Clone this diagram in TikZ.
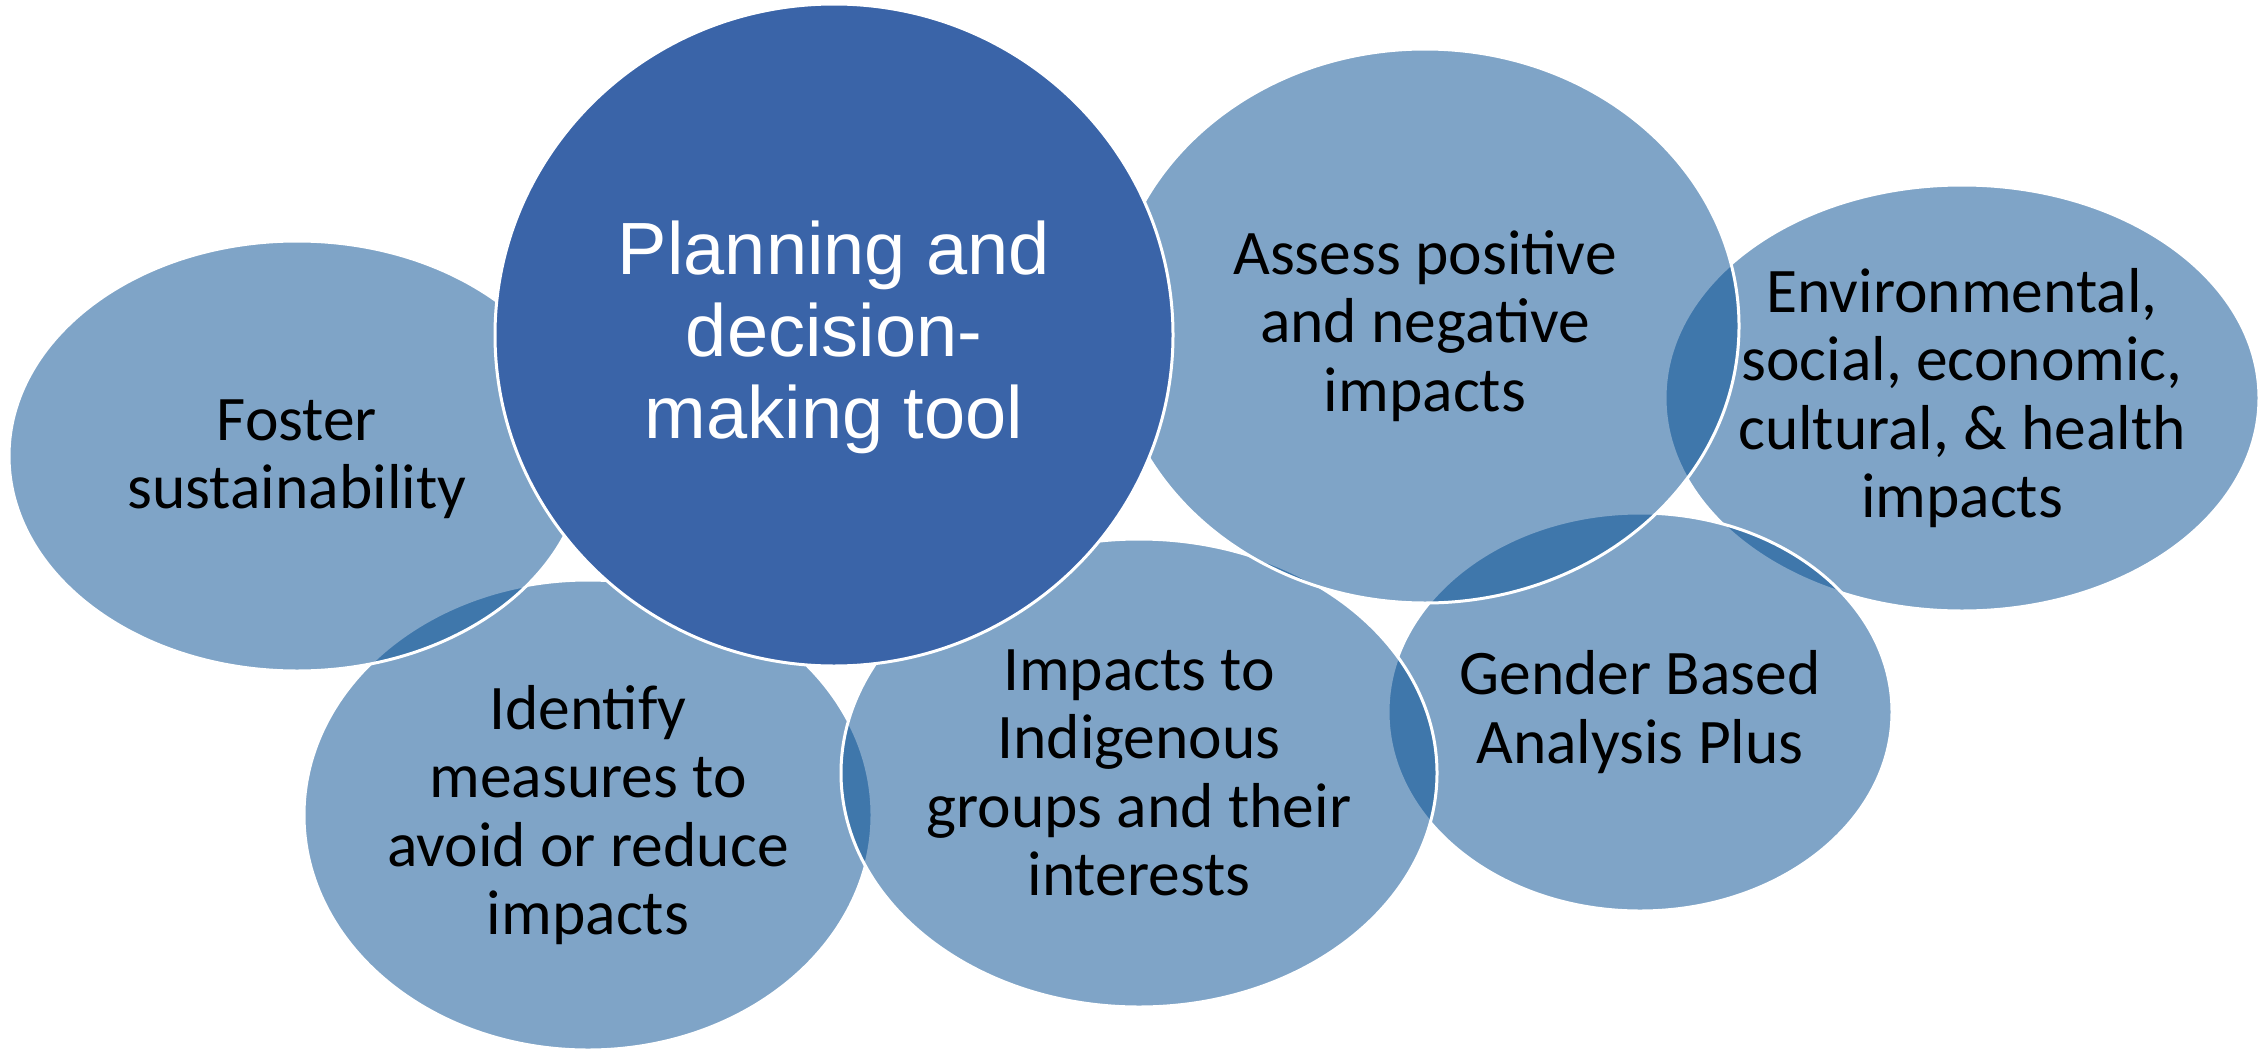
\documentclass[tikz,border=0pt]{standalone}
\usepackage{fontspec}
\setmainfont{Carlito}
\newfontfamily\arialfont{Liberation Sans}
\usetikzlibrary{shapes.geometric}
\definecolor{vfill}{RGB}{0,75,145}
\definecolor{vdark}{RGB}{58,100,168}
\tikzset{
  venn/.style={ellipse, draw=white, line width=3pt, fill=vfill, fill opacity=0.5, draw opacity=1, inner sep=0pt, outer sep=0pt},
  vennmain/.style={venn, fill=vdark, fill opacity=1},
  lbl/.style={align=center, text=black, inner sep=0pt, font=\fontsize{63.5}{68.5}\selectfont},
  mainlbl/.style={align=center, text=white, inner sep=0pt, font=\arialfont\fontsize{74}{82}\selectfont}
}
\begin{document}
\begin{tikzpicture}[x=1pt,y=-1pt]
\fill[white] (0,0) rectangle (2264,1049);
\useasboundingbox (0,0) rectangle (2264,1049);
% shapes, back to front
\node[venn, minimum width=594pt, minimum height=426pt] (env) at (1962,398) {};
\node[venn, minimum width=504pt, minimum height=398pt] (gender) at (1640,712) {};
\node[venn, minimum width=568pt, minimum height=470pt] (identify) at (588,815) {};
\node[venn, minimum width=596pt, minimum height=468pt] (indig) at (1139,773) {};
\node[venn, minimum width=576pt, minimum height=430pt] (foster) at (297,456) {};
\node[venn, minimum width=628pt, minimum height=554pt] (assess) at (1425,326) {};
\node[vennmain, minimum width=678pt, minimum height=662pt] (plan) at (834,335) {};
% labels
\node[lbl] (envt) at (env.center) {Environmental,\\social, economic,\\cultural, \& health\\impacts};
\node[lbl] (gendert) at (gender.center) {Gender Based\\Analysis Plus};
\node[lbl] (identifyt) at (identify.center) {Identify\\measures to\\avoid or reduce\\impacts};
\node[lbl] (indigt) at (indig.center) {Impacts to\\Indigenous\\groups and their\\interests};
\node[lbl] (fostert) at ([yshift=-3pt]foster.center) {Foster\\sustainability};
\node[lbl] (assesst) at (assess.center) {Assess positive\\and negative\\impacts};
\node[mainlbl] (plant) at ([yshift=-2pt]plan.center) {Planning and\\decision-\\making tool};
\end{tikzpicture}
\end{document}
